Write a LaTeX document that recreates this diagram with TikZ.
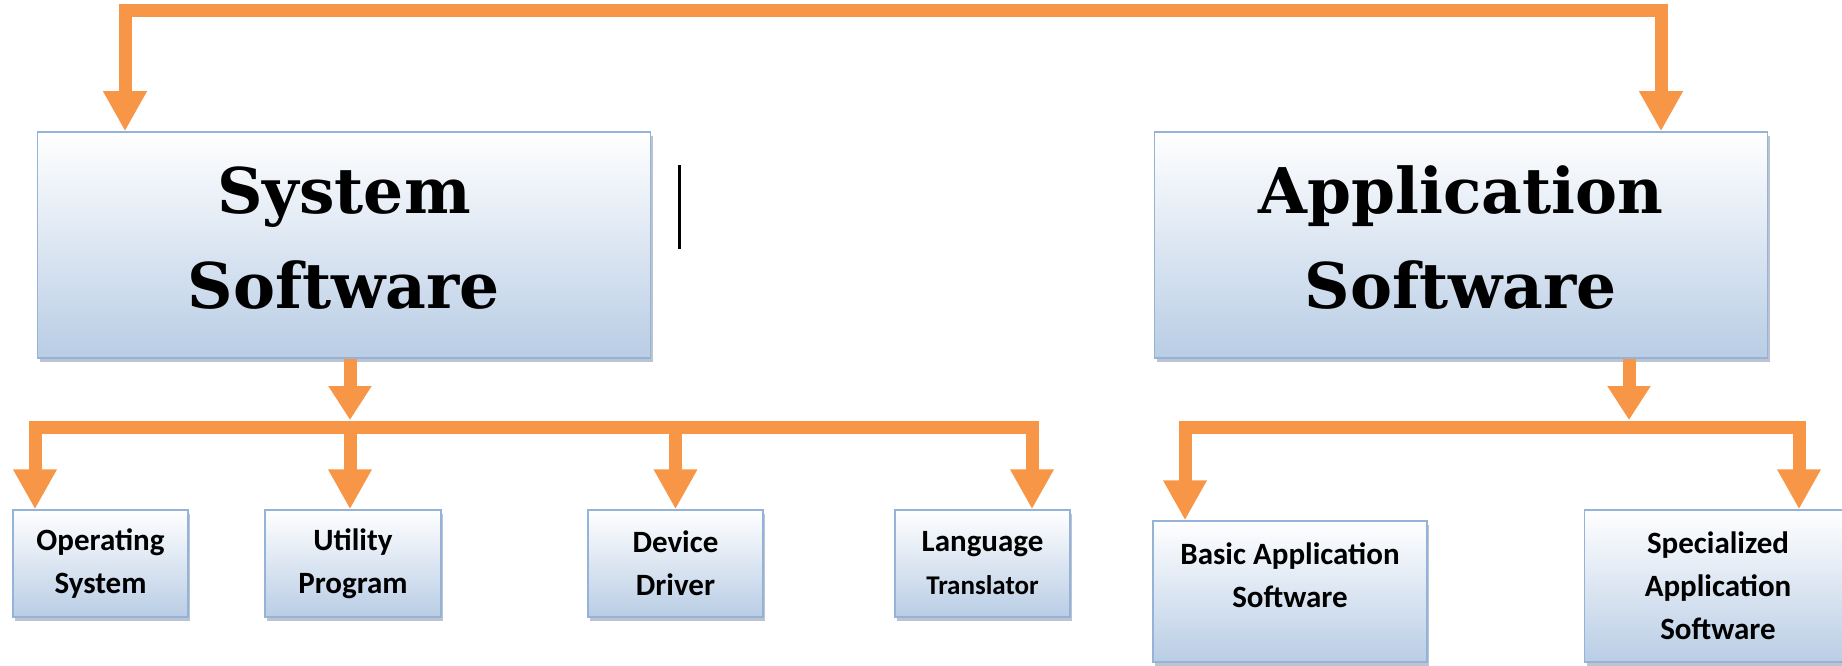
\documentclass[tikz,border=0pt]{standalone}
\usepackage{fontspec}
\setmainfont{Carlito}
\newfontfamily\headfont{DejaVu Serif}
\usetikzlibrary{arrows.meta,shadows}
\definecolor{flowor}{HTML}{F79646}
\definecolor{boxbot}{HTML}{B9CDE5}
\definecolor{boxline}{HTML}{95B3D7}
\tikzset{
	box/.style = {draw=boxline, line width=1.5pt, top color=white, bottom color=boxbot, inner sep=0pt, align=center,
		font=\bfseries\fontsize{31}{43}\selectfont,
		drop shadow={shadow xshift=2pt, shadow yshift=-4pt, fill=boxline!70!black, opacity=0.45}},
	bigbox/.style = {box, minimum width=613pt, minimum height=226pt, text depth=15pt,
		font=\headfont\bfseries\fontsize{63}{95}\selectfont},
	flow/.style = {draw=flowor, line width=13pt, line join=miter},
	flowtip/.style = {-{Triangle[width=41pt,length=40pt]}},
	droptip/.style = {-{Triangle[width=41pt,length=34pt]}},
	bothtip/.style = {{Triangle[width=41pt,length=40pt]}-{Triangle[width=41pt,length=40pt]}},
}
\begin{document}
\begin{tikzpicture}[x=1pt, y=1pt]
	\useasboundingbox (0,0) rectangle (1842,665);

	% main boxes
	\node[bigbox] (sys) at (344,420) {System\\Software};
	\node[bigbox] (app) at (1461,420) {Application\\Software};
	\draw[line width=3pt] (679,416) -- (679,500);

	% lower boxes
	\node[box, minimum width=175pt, minimum height=107pt] (os) at (100.5,101.5) {Operating\\System};
	\node[box, minimum width=176pt, minimum height=107pt] (util) at (353,101.5) {Utility\\Program};
	\node[box, minimum width=175pt, minimum height=107pt] (dev) at (675.5,101.5) {Device\\Driver};
	\node[box, minimum width=175pt, minimum height=107pt] (lang) at (982.5,101.5) {Language\\{\fontsize{27}{43}\selectfont Translator}};
	\node[box, minimum width=274pt, minimum height=141pt, text depth=33pt] (basic) at (1290,73.5) {Basic Application\\Software};
	\node[box, minimum width=267pt, minimum height=152pt] (spec) at (1718,79) {Specialized\\Application\\Software};

	% top connector
	\coordinate (tl) at (125,654);
	\coordinate (tr) at (1661,654);
	\draw[flow, bothtip] (tl |- sys.north) -- (tl) -- (tr) -- (tr |- app.north);

	% system software branches
	\coordinate (sbl) at (35,238);
	\coordinate (sbm) at (350,238);
	\coordinate (sbr) at (1032,238);
	\draw[flow, line cap=rect] (sbl) -- (sbr);
	\draw[flow, droptip] (sys.south -| sbm) -- ([yshift=7]sbm);
	\draw[flow, flowtip] (sbl) -- (sbl |- os.north);
	\draw[flow, flowtip] (sbm) -- (sbm |- util.north);
	\draw[flow, flowtip] (dev.north |- sbm) -- (dev.north);
	\draw[flow, flowtip] (sbr) -- (sbr |- lang.north);

	% application software branches
	\coordinate (abl) at (1185,238);
	\coordinate (abm) at (1629,238);
	\coordinate (abr) at (1799,238);
	\draw[flow, line cap=rect] (abl) -- (abr);
	\draw[flow, droptip] (app.south -| abm) -- ([yshift=7]abm);
	\draw[flow, flowtip] (abl) -- (abl |- basic.north);
	\draw[flow, flowtip] (abr) -- (abr |- spec.north);
\end{tikzpicture}
\end{document}
